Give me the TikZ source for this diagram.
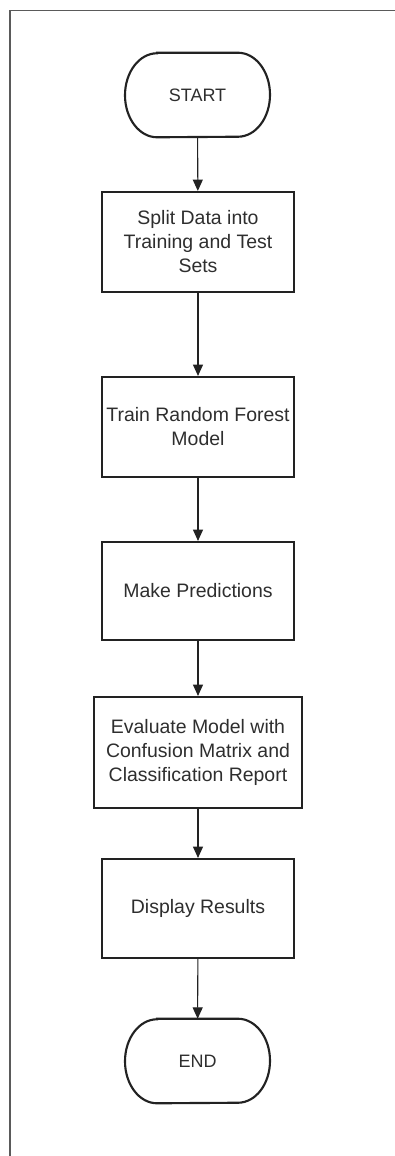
\documentclass[tikz,border=0pt]{standalone}
\usepackage{fontspec}
\setmainfont{Liberation Sans}
\usetikzlibrary{arrows.meta}
\definecolor{txt}{HTML}{2E2E2E}
\definecolor{edge}{HTML}{222222}
\definecolor{framec}{HTML}{5A5A5A}
\tikzset{
  stepbox/.style={draw=edge, line width=1.6pt, rectangle, inner sep=0pt, minimum width=144pt, align=center, text=txt, font=\fontsize{14.6pt}{18pt}\selectfont},
  term/.style={rectangle, inner sep=0pt, minimum width=108.75pt, minimum height=63pt, text=txt, font=\fontsize{13.5pt}{16pt}\selectfont},
  termline/.style={draw=edge, line width=1.6pt},
  arr/.style={draw=edge, line width=0.8pt, -{Triangle[length=8.5pt,width=7.5pt]}},
  framel/.style={draw=framec, line width=1.2pt}
}
\begin{document}
\begin{tikzpicture}[x=0.75pt, y=-0.75pt]
\useasboundingbox (0,0) rectangle (395,1156);
\draw[framel] (395,10.5) -- (10,10.5) -- (10,1156);

\node[term] (start) at (197.5,95) {START};
\node[stepbox, minimum height=75pt] (b1) at (198,242) {Split Data into\\Training and Test\\Sets};
\node[stepbox, minimum height=75pt] (b2) at (198,427) {Train Random Forest\\Model};
\node[stepbox, minimum height=73.5pt] (b3) at (198,591) {Make Predictions};
\node[stepbox, minimum width=156pt, minimum height=83.25pt] (b4) at (198,752.5) {Evaluate Model with\\Confusion Matrix and\\Classification Report};
\node[stepbox, minimum height=74.25pt] (b5) at (198,908.5) {Display Results};
\node[term] (end) at (197.5,1061) {END};

\foreach \n in {start,end}{
  \draw[termline] ([xshift=-30.375pt]\n.north) -- ([xshift=30.375pt]\n.north)
    arc[start angle=90, end angle=-90, x radius=24pt, y radius=31.5pt]
    -- ([xshift=-30.375pt]\n.south)
    arc[start angle=270, end angle=90, x radius=24pt, y radius=31.5pt] -- cycle;
}

\draw[arr] (start) -- (b1);
\draw[arr] (b1) -- (b2);
\draw[arr] (b2) -- (b3);
\draw[arr] (b3) -- (b4);
\draw[arr] (b4) -- (b5);
\draw[arr] (b5) -- (end);
\end{tikzpicture}
\end{document}
